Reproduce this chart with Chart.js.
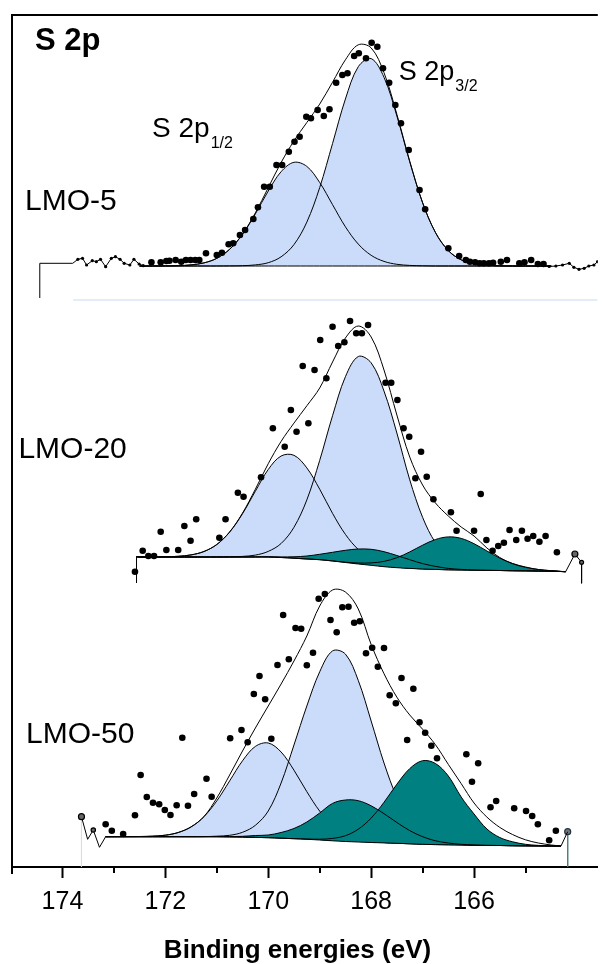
<!DOCTYPE html>
<html><head><meta charset="utf-8">
<script src="https://cdn.jsdelivr.net/npm/chart.js@4.4.1/dist/chart.umd.min.js"></script>
<style>html,body{margin:0;padding:0;background:#fff;overflow:hidden}canvas{display:block}</style>
</head><body>
<canvas id="c" width="602" height="964"></canvas>
<script>
// ---------------- DATA (binding energy in eV, intensity in a.u., stacked) ----------------
const MAJOR_TICKS = [174, 172, 170, 168, 166];
const MINOR_TICKS = [173, 171, 169, 167, 165];
const X_MAX = 174.98, X_MIN = 163.595;
const Y_MAX = 852;

const GRID = [172.5,172.25,172.0,171.75,171.5,171.25,171.0,170.75,170.5,170.25,170.0,169.75,169.5,169.25,169.0,168.75,168.5,168.25,168.0,167.75,167.5,167.25,167.0,166.75,166.5,166.25,166.0,165.75,165.5,165.25,165.0,164.75,164.5];

// ---- LMO-5 ----
const p1BE = GRID;
const p1Bg = [601,601,601,601,601,601,601,601,601,601,601,601,601,601,601,601,601,601,601,601,601,601,601,601,601,601,601,601,601,601,601,601,601];
const p1Half = [601,601,601.1,601.3,602.1,604.1,608.7,617.7,632.6,653.1,676.0,695.3,704.7,700.6,684.5,662.3,640.2,622.9,611.7,605.6,602.7,601.6,601.2,601,601,601,601,601,601,601,601,601,601];
const p1ThreeHalf = [601,601,601,601,601,601,601,601.1,601.3,602.1,604.3,610.2,622.4,644.9,679.4,723.5,768.0,800.3,808.4,789.7,751.0,705.2,664.2,634.5,616.4,607.2,603.2,601.7,601.2,601,601,601,601];
const p1Env = [601,601,601.1,601.3,602.1,604.1,608.7,617.8,632.9,654.2,679.3,704.5,726.1,744.5,762.9,784.8,807.2,822.2,819.1,794.3,752.7,705.8,664.4,634.5,616.4,607.2,603.2,601.7,601.2,601,601,601,601];
const p1DotBE = [172.27,172.09,171.98,171.92,171.80,171.69,171.60,171.51,171.42,171.34,171.21,171.00,170.90,170.77,170.68,170.55,170.45,170.29,170.20,170.08,169.97,169.84,169.73,169.60,169.49,169.39,169.26,169.17,169.04,168.92,168.81,168.68,168.56,168.46,168.33,168.24,168.10,167.99,167.88,167.77,167.65,167.53,167.42,167.27,167.06,166.95,166.50,166.29,166.16,166.08,165.98,165.89,165.81,165.71,165.63,165.48,165.36,165.12,165.02,164.89,164.76,164.65];
const p1DotI = [604.7,604.7,606,606.3,607,605.3,607,607,607,607,613.7,612,614.3,622.7,623.7,632,637,648,659.7,680.3,680.3,702,702,715.3,725.3,730.3,750.3,748.7,757,751,757.7,784.3,792,793.7,811,813.7,808.7,824.3,820.3,798.7,784.3,762,743.7,717,677,657.7,618.7,611,607,605.3,604.7,603.7,603.7,603.7,604.3,605.3,607,603.7,604.7,607,603,603];
const p1RawLBE = [174.44,174.44,173.80,173.70,173.61,173.53,173.42,173.34,173.26,173.16,173.05,172.97,172.88,172.80,172.69,172.61,172.51,172.43];
const p1RawLI = [569,603.7,603.7,607.7,608.7,602,606.3,605.3,607.7,600.3,608.7,610.3,607.7,603.7,602,607.7,603,601.3];
const p1RawRBE = [164.54,164.41,164.28,164.15,164.06,163.96,163.86,163.77,163.67,163.60];
const p1RawRI = [600.5,601,602,603.7,599.7,597.7,598.7,601,602,605.3];

// ---- LMO-20 ----
const p2BE = [172.56,172.5,172.25,172.0,171.75,171.5,171.25,171.0,170.75,170.5,170.25,170.0,169.75,169.5,169.25,169.0,168.75,168.5,168.25,168.0,167.75,167.5,167.25,167.0,166.75,166.5,166.25,166.0,165.75,165.5,165.25,165.0,164.75,164.5,164.22];
const p2Bg = [310.3,310,310,310,310,310,310,310,310,310,310,310,309.5,308.8,308,307.3,306,304.5,303,301.7,300.3,299.3,298.6,298,297.6,297.2,297,296.8,296.6,296.5,296.3,296.2,296,295.8,295.3];
const p2Half = [310.3,310,310,310.2,310.7,312.1,315.5,322.5,334.9,353.3,375.8,397.5,411.0,411.7,399.1,377.8,353.6,332.6,317.5,308.3,302.9,300.2,298.9,298,297.6,297.2,297,296.8,296.6,296.5,296.3,296.2,296,295.8,295.3];
const p2ThreeHalf = [310.3,310,310,310,310,310,310,310,310.2,310.6,311.9,315.6,323.5,339.7,367.1,406.6,451.3,490.3,510.5,504.2,475.9,434.0,387.2,349.7,324.2,309.4,300.8,298.1,297.0,296.5,296.3,296.2,296,295.8,295.3];
const p2TealA = [310.3,310,310,310,310,310,310,310,310,310,310.1,310.2,310.1,310.2,311.0,312.7,314.7,316.7,318.0,317.7,315.3,311.5,307.3,303.4,300.6,298.6,297.6,297.0,296.7,296.5,296.3,296.2,296,295.8,295.3];
const p2TealB = [310.3,310,310,310,310,310,310,310,310,310,310,310,309.5,308.8,308,307.3,306.1,304.8,304.0,304.1,305.6,309.3,315.1,321.8,327.5,330.1,328.6,323.3,316.0,308.9,303.3,299.6,297.5,296.3,295.3];
const p2Env = [310.3,310,310,310.2,310.7,312.1,315.5,322.5,335.1,353.9,377.8,403.3,425.6,443.9,461.2,479,505,529,541,530,497,452,410,382,364,351,340,331,319,309.5,303.5,300,297.5,296.3,295.3];
const p2DotBE = [172.59,172.44,172.33,172.22,172.09,171.98,171.75,171.63,171.51,171.40,170.95,170.83,170.59,170.48,170.14,169.91,169.68,169.56,169.45,169.33,169.22,169.10,168.99,168.87,168.75,168.64,168.52,168.41,168.29,168.18,168.06,167.72,167.61,167.49,167.37,167.26,167.14,167.03,166.92,166.79,166.45,166.34,166.00,165.87,165.76,165.64,165.53,165.42,165.31,165.18,165.07,164.96,164.85,164.73,164.61,164.39];
const p2DotI = [295.3,316.3,311,311,335.3,317,317,341,326.3,347.7,329.3,347.7,374.3,370.3,389.7,438.7,420.3,457,435.3,501,443.7,497,527,488.7,540.3,521,524.7,546,533.7,533.7,542,484.3,484.3,467,438.7,430.3,388.7,415.3,390.3,367.7,354.7,336.3,336.3,373,327,316.3,321,324.3,337,327,336.3,328.3,331,325.3,331,314.7];
const p2RawLBE = [172.56,172.56];
const p2RawLI = [284,310.3];
const p2RawRBE = [164.22,164.04,163.91,163.91];
const p2RawRI = [295.3,313,304.7,283.7];

// ---- LMO-50 ----
const p3BE = [173.16,172.5,172.25,172.0,171.75,171.5,171.25,171.0,170.75,170.5,170.25,170.0,169.75,169.5,169.25,169.0,168.75,168.5,168.25,168.0,167.75,167.5,167.25,167.0,166.75,166.5,166.25,166.0,165.75,165.5,165.25,165.0,164.75,164.5,164.31];
const p3Bg = [30.3,30.3,30.3,30.3,30.3,30.3,30.3,30.3,30.1,29.9,29.6,29.3,28.8,28.3,27.7,27.0,26.2,25.5,25.0,24.5,24.1,23.7,23.2,22.7,22.4,22.2,22.0,21.8,21.6,21.5,21.3,21.2,21.1,21.0,21.0];
const p3Half = [30.3,30.5,30.8,31.8,34.5,40.1,50.3,66.1,86.1,106.2,120.6,124.0,115.0,96.8,75.3,55.9,41.5,32.5,27.9,25.5,24.4,23.7,23.2,22.7,22.4,22.2,22.0,21.8,21.6,21.5,21.3,21.2,21.1,21.0,21.0];
const p3ThreeHalf = [30.3,30.3,30.3,30.3,30.3,30.3,30.4,30.8,31.7,34.7,41.7,56.0,84,122,161,195.2,216.1,212.9,186.5,146.0,104.0,69.6,46.2,32.9,26.2,23.5,22.4,21.8,21.6,21.5,21.3,21.2,21.1,21.0,21.0];
const p3TealA = [30.3,30.3,30.3,30.3,30.3,30.3,30.3,30.3,30.4,30.7,31.5,32.0,34.5,38.5,45.0,54.0,63.6,67.0,66.3,61.2,53.3,44.5,36.4,30.3,26.2,24.0,22.7,22.1,21.6,21.5,21.3,21.2,21.1,21.0,21.0];
const p3TealB = [30.3,30.3,30.3,30.3,30.3,30.3,30.3,30.3,30.1,29.9,29.6,29.3,28.8,28.3,28.0,27.8,28.6,31.3,37.8,48.9,64.7,82.8,98.4,106.3,103.5,91.0,70.0,53.0,38.0,29.5,25.2,22.7,21.6,21.1,21.0];
const p3Env = [30.3,30.5,30.8,31.8,34.5,40.1,50.4,69,92,116,139,161,183,206,231,261,277,275,258,222.5,193.3,169.8,152,137.8,122.3,102.6,83.4,64,49.9,39.6,32.4,27.2,24,22,21.0];
const p3DotBE = [173.16,173.04,172.82,172.59,172.48,172.36,172.24,172.12,172.01,171.90,171.78,171.67,171.56,171.44,171.20,171.10,170.74,170.52,170.40,170.28,170.17,170.06,169.94,169.82,169.71,169.60,169.47,169.36,169.25,169.13,169.02,168.90,168.79,168.67,168.56,168.44,168.33,168.22,168.10,167.98,167.87,167.75,167.64,167.52,167.41,167.30,167.18,167.06,166.95,166.83,166.72,166.15,166.04,165.92,165.68,165.57,165.22,164.99,164.87,164.76,164.54,164.41];
const p3DotI = [42.7,36.3,33,51.7,92,70,64.3,62.7,57,52,61.7,129.3,61.3,73,88.3,70.3,128.7,137,124.7,173,191,167.7,128.3,202,252,207.7,239,238.3,201.7,214.3,268.3,273,247,234.7,259.7,260.3,244.3,245.7,213.7,219.3,200.3,219,171.7,163.7,189,127,178.3,144.7,134.3,121.3,108.7,112.7,85.3,103.7,59.7,66,58.7,56,51,42.7,26.7,36.3];
const p3RawLBE = [173.63,173.51,173.40,173.28,173.16];
const p3RawLI = [50.3,27.7,37,19.7,30.3];
const p3RawRBE = [164.31,164.18];
const p3RawRI = [21,35.3];
const p3DropBE = [164.18,164.18];
const p3DropI = [35.3,0.3];
const p3FaintBE = [173.63,173.63];
const p3FaintI = [50.3,0.3];
const sepBE = [173.79,163.6];
const sepI = [567,567];

// ---------------- LABELS ----------------
const LABELS = [
  {text:'S 2p', be:174.534, i:817, size:31, weight:'bold'},
  {text:'S 2p', sub:'1/2', be:172.258, i:730.3, size:28, subSize:16, subDrop:11},
  {text:'S 2p', sub:'3/2', be:167.462, i:787, size:27, subSize:16, subDrop:11},
  {text:'LMO-5', be:174.727, i:657, size:30},
  {text:'LMO-20', be:174.856, i:409, size:30},
  {text:'LMO-50', be:174.708, i:124, size:30}
];
const AXIS_TITLE = 'Binding energies (eV)';

// ---------------- STYLE ----------------
const FONT = '"Liberation Sans", Arial, Helvetica, sans-serif';
const BLUE = '#cbdcfb';
const TEAL = '#008080';
Chart.defaults.font.family = FONT;

const pts = (xs, ys) => xs.map((x, k) => ({x: x, y: ys[k]}));
const datasets = [];
function lineDs(xs, ys, order, extra) {
  return Object.assign({data: pts(xs, ys), borderColor: '#000', borderWidth: 1, pointRadius: 0,
    fill: false, tension: 0.35, order: order}, extra || {});
}
function addPanel(be, bg, blues, teals, env, dx, dy) {
  const bgIdx = datasets.length;
  datasets.push(lineDs(be, bg, 2));
  blues.forEach(c => {
    datasets.push(lineDs(be, c, 6, {borderWidth: 0, borderColor: 'rgba(0,0,0,0)', backgroundColor: BLUE, fill: {target: bgIdx}}));
    datasets.push(lineDs(be, c, 5));
  });
  teals.forEach(c => {
    datasets.push(lineDs(be, c, 4, {borderWidth: 0, borderColor: 'rgba(0,0,0,0)', backgroundColor: TEAL, fill: {target: bgIdx}}));
    datasets.push(lineDs(be, c, 3));
  });
  datasets.push(lineDs(be, env, 1));
  datasets.push({data: pts(dx, dy), showLine: false, pointRadius: 3.3, pointBackgroundColor: '#000',
    pointBorderWidth: 0, order: 0});
}
function rawDs(xs, ys, radii, color, width) {
  return {data: pts(xs, ys), borderColor: color || '#000', borderWidth: width || 1, tension: 0,
    pointRadius: radii, pointBackgroundColor: '#000', pointBorderColor: '#000', pointBorderWidth: 0, fill: false, order: 1};
}

datasets.push(Object.assign(rawDs(sepBE, sepI, 0, '#e4ecfa', 2), {order: 7}));
addPanel(p1BE, p1Bg, [p1Half, p1ThreeHalf], [], p1Env, p1DotBE, p1DotI);
addPanel(p2BE, p2Bg, [p2Half, p2ThreeHalf], [p2TealA, p2TealB], p2Env, p2DotBE, p2DotI);
addPanel(p3BE, p3Bg, [p3Half, p3ThreeHalf], [p3TealA, p3TealB], p3Env, p3DotBE, p3DotI);
datasets.push(rawDs(p1RawLBE, p1RawLI, p1RawLBE.map((v, k) => k < 3 ? 0 : 1.6)));
datasets.push(rawDs(p1RawRBE, p1RawRI, 1.6));
datasets.push(rawDs(p2RawLBE, p2RawLI, 0));
datasets.push(Object.assign(rawDs(p2RawRBE, p2RawRI, [0, 3, 2, 0]), {pointBackgroundColor: '#666', pointBorderWidth: 1.2}));
datasets.push(Object.assign(rawDs(p3FaintBE, p3FaintI, 0, '#dcdcdc', 1), {order: 7}));
datasets.push(Object.assign(rawDs(p3RawLBE, p3RawLI, [3, 0, 2.2, 0, 0]), {pointBackgroundColor: '#666', pointBorderWidth: 1.2}));
datasets.push(rawDs(p3RawRBE, p3RawRI, 0));
datasets.push(Object.assign(rawDs(p3DropBE, p3DropI, [3, 0], '#4f8080', 1), {pointBackgroundColor: '#777', pointBorderColor: '#234', pointBorderWidth: 1.2}));

const decor = {
  id: 'decor',
  afterDraw(chart) {
    const {ctx, chartArea: a, scales: {x, y}} = chart;
    ctx.save();
    ctx.strokeStyle = '#000';
    ctx.lineWidth = 2;
    ctx.beginPath();
    ctx.moveTo(a.left, a.bottom + 7);
    ctx.lineTo(a.left, a.top);
    ctx.lineTo(a.right, a.top);
    ctx.stroke();
    ctx.beginPath();
    MINOR_TICKS.forEach(v => {
      const px = Math.round(x.getPixelForValue(v));
      ctx.moveTo(px, a.bottom);
      ctx.lineTo(px, a.bottom + 6);
    });
    ctx.stroke();
    ctx.fillStyle = '#000';
    ctx.textBaseline = 'alphabetic';
    ctx.textAlign = 'left';
    LABELS.forEach(L => {
      const px = x.getPixelForValue(L.be), py = y.getPixelForValue(L.i);
      ctx.font = (L.weight || 'normal') + ' ' + L.size + 'px ' + FONT;
      ctx.fillText(L.text, px, py);
      if (L.sub) {
        const w = ctx.measureText(L.text).width;
        ctx.font = 'normal ' + L.subSize + 'px ' + FONT;
        ctx.fillText(L.sub, px + w + 1, py + L.subDrop);
      }
    });
    ctx.font = 'bold 26px ' + FONT;
    ctx.textAlign = 'center';
    ctx.fillText(AXIS_TITLE, 297.5, 958);
    ctx.restore();
  }
};

new Chart(document.getElementById('c'), {
  type: 'line',
  data: {datasets: datasets},
  options: {
    responsive: false, animation: false, devicePixelRatio: 1,
    layout: {padding: {left: 12, top: 15, right: 0, bottom: 0}},
    plugins: {legend: {display: false}, tooltip: {enabled: false}},
    elements: {point: {hoverRadius: 0}},
    scales: {
      x: {
        type: 'linear', reverse: true, min: X_MIN, max: X_MAX, bounds: 'data',
        afterFit: s => { s.height = 97; },
        afterBuildTicks: s => { s.ticks = MAJOR_TICKS.map(v => ({value: v})); },
        ticks: {color: '#000', font: {size: 25}, padding: 9, maxRotation: 0, autoSkip: false,
          callback: v => String(v)},
        grid: {drawOnChartArea: false, drawTicks: true, tickLength: 11, tickWidth: 2, tickColor: '#000'},
        border: {display: true, color: '#000', width: 2},
        title: {display: false}
      },
      y: {type: 'linear', display: false, min: 0, max: Y_MAX}
    }
  },
  plugins: [decor]
});
</script>
</body></html>
